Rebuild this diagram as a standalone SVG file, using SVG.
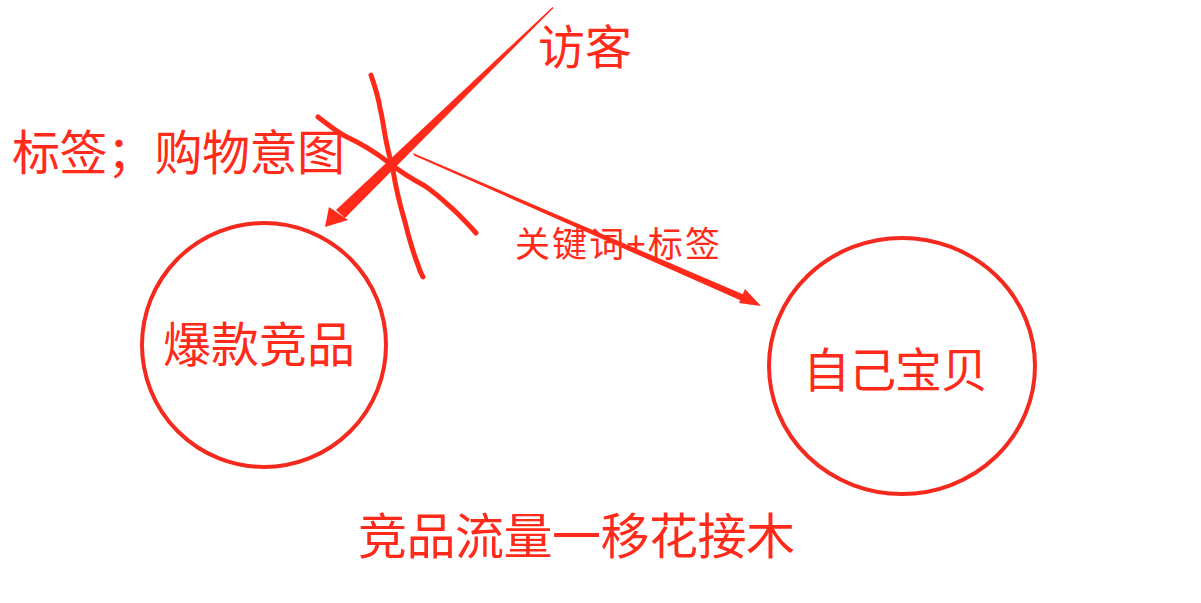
<svg xmlns="http://www.w3.org/2000/svg" width="1201" height="603" viewBox="0 0 1201 603">
<style>
.t{font-family:"Noto Sans CJK SC","Liberation Sans",sans-serif;fill:#ff2a1a}
.c{fill:none;stroke:#f42a1e;stroke-width:4}
.s{fill:none;stroke:#ff2a1a;stroke-width:5;stroke-linecap:round;stroke-linejoin:round}
.a{fill:#ff2a1a}
</style>
<rect width="1201" height="603" fill="#fff"/>
<g id="node-baokuan">
<circle class="c" cx="264" cy="345" r="122"/>
<text class="t" x="163" y="362" font-size="48" textLength="192">爆款竞品</text>
</g>
<g id="node-ziji">
<ellipse class="c" cx="902" cy="366" rx="133" ry="128"/>
<text class="t" x="803" y="387" font-size="47" textLength="185">自己宝贝</text>
</g>
<g id="labels">
<text class="t" x="538" y="64" font-size="47" textLength="94">访客</text>
<text class="t" x="12" y="170" font-size="48" textLength="333">标签；购物意图</text>
<text class="t" x="515" y="257" font-size="35" textLength="205">关键词+标签</text>
<text class="t" x="358" y="554" font-size="49" textLength="437">竞品流量一移花接木</text>
</g>
<g id="connectors">
<polygon class="a" points="552.5,7 553.5,8 345,218 336,210"/>
<polygon class="a" points="325,227 329,207 348,220"/>
<polygon class="a" points="413,153 414,155.5 751,305 747,296"/>
<polygon class="a" points="761,306 745,289 739,303"/>
<path class="s" d="M371,75 C374,84 378,95 380,108 C383,120 384,132 387,145 C389,155 391,162 393,170 C396,190 400,205 405,222 C409,238 414,255 418,265 C420,272 422,275 423,277"/>
<path class="s" d="M318,117 C326,123 334,130 345,136 C360,143 375,152 388,162 C398,170 410,178 425,186 C438,195 446,203 455,211 C463,219 470,226 476,233"/>
</g>
</svg>
